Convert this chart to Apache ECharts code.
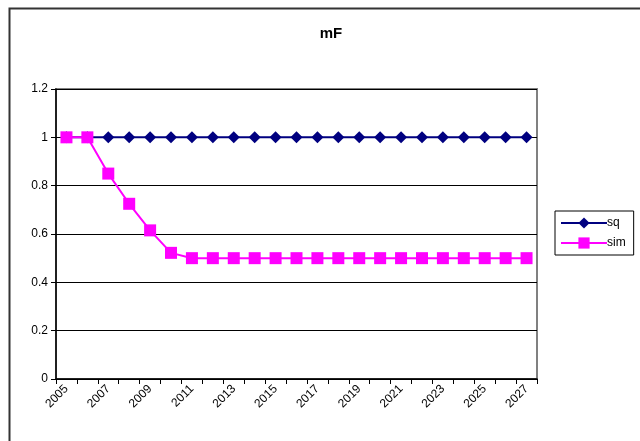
<!DOCTYPE html>
<html><head><meta charset="utf-8">
<script src="https://cdn.jsdelivr.net/npm/echarts@6/dist/echarts.min.js"></script>
<style>html,body{margin:0;padding:0;background:#fff}#c{width:640px;height:441px}</style>
</head><body><div id="c"></div>
<script>
var categories = ['2005','2006','2007','2008','2009','2010','2011','2012','2013','2014','2015','2016','2017','2018','2019','2020','2021','2022','2023','2024','2025','2026','2027'];
var sqValues = [1,1,1,1,1,1,1,1,1,1,1,1,1,1,1,1,1,1,1,1,1,1,1];
var simValues = [1,1,0.85,0.725,0.615,0.522,0.5,0.5,0.5,0.5,0.5,0.5,0.5,0.5,0.5,0.5,0.5,0.5,0.5,0.5,0.5,0.5,0.5];
var yTicks = [0,0.2,0.4,0.6,0.8,1,1.2];

var chart = echarts.init(document.getElementById('c'));
var font = 'Liberation Sans, Arial, sans-serif';
chart.setOption({
  animation: false,
  textStyle: {fontFamily: font},
  title: {text: 'mF', left: 326, top: 21, textAlign: 'center',
    textStyle: {fontFamily: font, fontSize: 15, fontWeight: 'bold', color: '#000'}},
  graphic: [{type: 'rect', left: 7, top: 6, shape: {width: 700, height: 500},
    style: {fill: 'none', stroke: '#333', lineWidth: 2}, silent: true}],
  grid: {left: 56, right: 103, top: 89, bottom: 62, show: true, borderColor: '#808080', borderWidth: 2, backgroundColor: 'transparent'},
  legend: {orient: 'vertical', left: 555, top: 211,
    padding: [6, 8, 6, 5], itemGap: 8, itemWidth: 46, itemHeight: 14,
    borderColor: '#000', borderWidth: 1,
    textStyle: {fontFamily: font, fontSize: 12, color: '#000', padding: [0,0,0,-5]},
    data: ['sq', 'sim']},
  xAxis: {type: 'category', data: categories, boundaryGap: true,
    axisLine: {lineStyle: {color: '#000', width: 1.5}},
    axisTick: {show: true, interval: 0, length: 5, lineStyle: {color: '#000'}},
    axisLabel: {interval: 1, rotate: 45, fontSize: 12, color: '#000', fontFamily: font, margin: 8},
    splitLine: {show: false}},
  yAxis: {type: 'value', min: yTicks[0], max: yTicks[yTicks.length-1], interval: 0.2,
    axisLine: {show: true, lineStyle: {color: '#000', width: 1.5}},
    axisTick: {show: true, length: 5, lineStyle: {color: '#000'}},
    axisLabel: {fontSize: 12, color: '#000', fontFamily: font, margin: 8,
      formatter: function(v){ return String(Math.round(v*10)/10); }},
    splitLine: {show: true, lineStyle: {color: '#000', width: 1}}},
  series: [
    {name: 'sq', type: 'line', data: sqValues, symbol: 'diamond', symbolSize: 12,
      itemStyle: {color: '#000080'}, lineStyle: {color: '#000080', width: 2}, z: 3},
    {name: 'sim', type: 'line', data: simValues, symbol: 'rect', symbolSize: 12,
      itemStyle: {color: '#ff00ff'}, lineStyle: {color: '#ff00ff', width: 2}, z: 4}
  ]
});
</script></body></html>
